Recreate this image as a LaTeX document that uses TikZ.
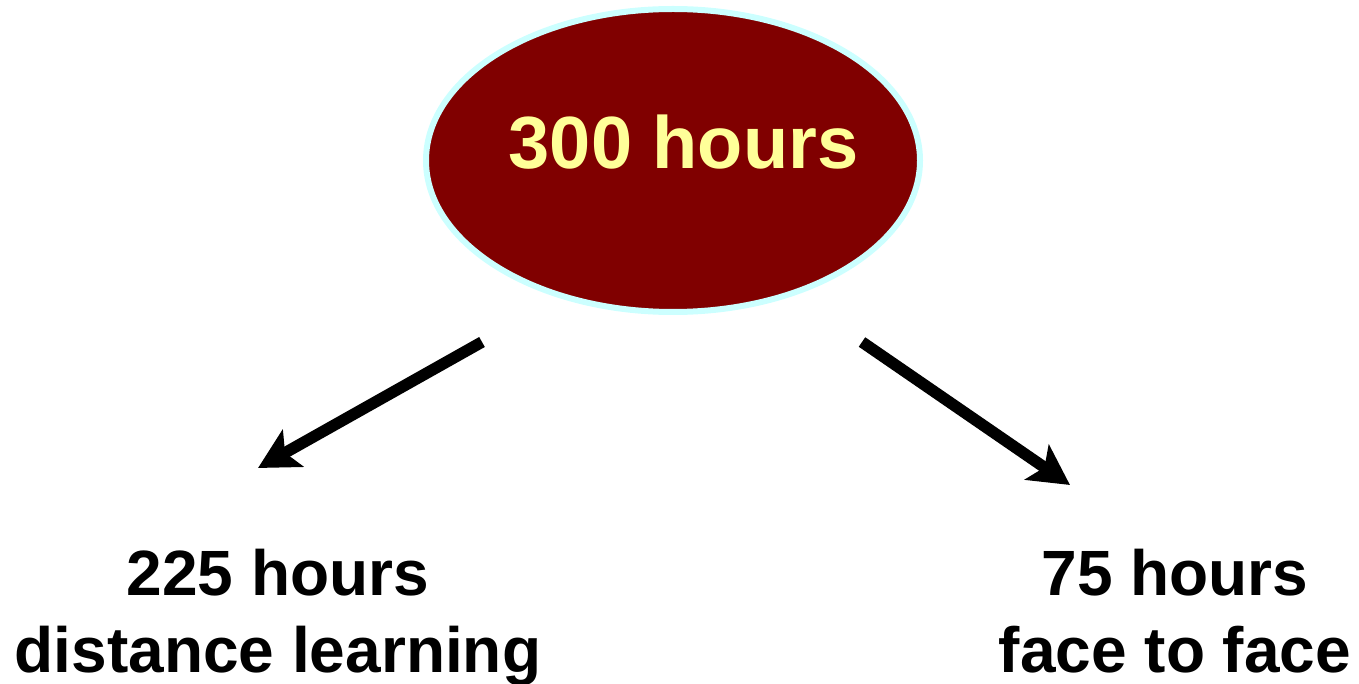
\documentclass[tikz,border=0pt]{standalone}
\usepackage{fontspec}
\setmainfont{Liberation Sans}
\usepackage{tikz}
\usetikzlibrary{arrows.meta}
\usetikzlibrary{shapes.geometric}
\definecolor{ovalred}{RGB}{128,0,0}
\definecolor{ovalrim}{RGB}{204,255,255}
\definecolor{ovaltext}{RGB}{255,255,153}
\tikzset{
  oval/.style={ellipse, fill=ovalred, draw=ovalrim, line width=6pt, minimum width=494pt, minimum height=303pt, inner sep=0pt},
  hours/.style={anchor=base, align=center, inner sep=0pt, font=\bfseries\fontsize{64}{77}\selectfont},
  bigarrow/.style={line width=11.5pt, -{Stealth[length=40pt,width=42pt,inset=9pt]}}
}

\begin{document}
\begin{tikzpicture}[x=1pt,y=-1pt]
					\useasboundingbox (0,0) rectangle (1359,684);
					\node[oval] (total) at (673,160.5) {};
					\node[anchor=base, inner sep=0pt, text=ovaltext, font=\bfseries\fontsize{74}{74}\selectfont] (totaltext) at (683.5,169) {300 hours};
					\node[hours] (distance) at (278,672) {225 hours\\distance learning};
					\node[hours] (face) at (1175,672) {75 hours\\face to face};
					\coordinate (ltail) at (482,342);
					\coordinate (ltip) at (258,468);
					\coordinate (rtail) at (862,342);
					\coordinate (rtip) at (1070,485);
					\draw[bigarrow] (ltail) -- (ltip);
					\draw[bigarrow] (rtail) -- (rtip);
					\end{tikzpicture}
\end{document}
